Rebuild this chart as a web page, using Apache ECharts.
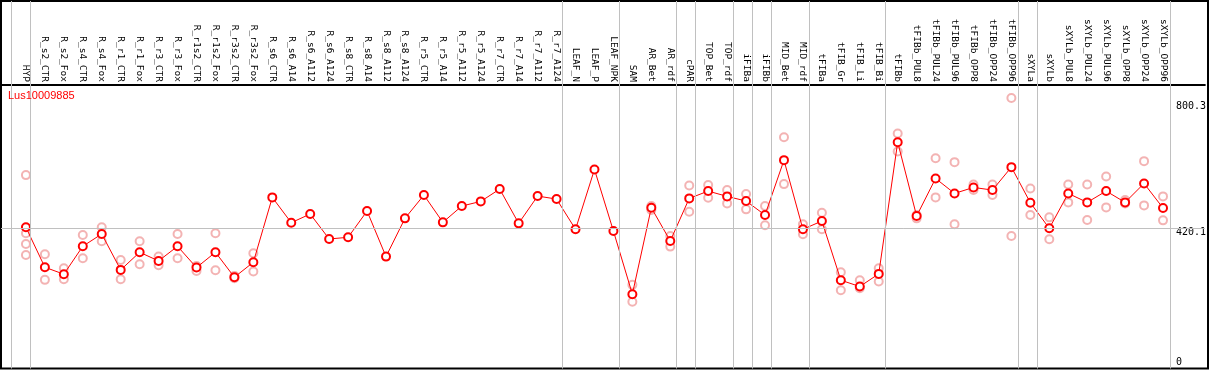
<!DOCTYPE html>
<html>
<head>
<meta charset="utf-8">
<script src="https://cdn.jsdelivr.net/npm/echarts@6.0.0/dist/echarts.min.js"></script>
<style>
html,body{margin:0;padding:0;background:#fff;}
#chart{width:1209px;height:370px;}
</style>
</head>
<body>
<div id="chart"></div>
<script>
const geneName = 'Lus10009885';
const categories = ['HYP','R_s2_CTR','R_s2_Fox','R_s4_CTR','R_s4_Fox','R_r1_CTR','R_r1_Fox','R_r3_CTR','R_r3_Fox','R_r1s2_CTR','R_r1s2_Fox','R_r3s2_CTR','R_r3s2_Fox','R_s6_CTR','R_s6_A14','R_s6_A112','R_s6_A124','R_s8_CTR','R_s8_A14','R_s8_A112','R_s8_A124','R_r5_CTR','R_r5_A14','R_r5_A112','R_r5_A124','R_r7_CTR','R_r7_A14','R_r7_A112','R_r7_A124','LEAF_N','LEAF_P','LEAF_NPK','SAM','AR_Bet','AR_rdf','cPAR','TOP_Bet','TOP_rdf','iFIBa','iFIBb','MID_Bet','MID_rdf','tFIBa','tFIB_Gr','tFIB_Li','tFIB_Bi','tFIBb','tFIBb_PUL8','tFIBb_PUL24','tFIBb_PUL96','tFIBb_OPP8','tFIBb_OPP24','tFIBb_OPP96','sXYLa','sXYLb','sXYLb_PUL8','sXYLb_PUL24','sXYLb_PUL96','sXYLb_OPP8','sXYLb_OPP24','sXYLb_OPP96'];
const meanValues = [423,303,282,366,403,295,348,322,366,302,348,273,318,513,437,463,388,393,472,335,450,520,438,487,501,538,435,517,508,417,597,412,222,482,382,510,532,516,502,460,625,417,442,264,245,283,679,457,570,525,543,535,604,497,420,525,498,532,498,555,481];
const replicates = [[580,405,373,340],[342,265],[300,267],[400,330],[423,381],[325,267],[381,312],[335,309],[403,330],[307,292],[405,294],[277,270],[345,290],
[],[],[],[],[],[],[],[],[],[],[],[],[],[],[],[],[],[],[],
[250,199],[487,475],[397,365],[549,470],[550,512],[535,495],[523,477],[487,429],[694,553],[432,402],[467,417],[288,234],[264,240],[300,260],
[705,651],[450,460],[631,513],[619,432],[552,535],[552,520],[812,397],[540,460],[453,387],[552,498],[552,445],[576,483],[505,495],[622,489],[516,444]];
const yTickValues = [0, 420.1, 800.3];
const refLineValue = 420.1;
// group separators follow these category indices
const separatorAfter = [-1,0,28,31,34,35,37,38,39,41,45,52,53,60];

const mono = 'DejaVu Sans Mono';
const X_MIN = (1 - 26) / 19, X_MAX = (1208 - 26) / 19, SEP_OFF = 4.3 / 19;
const Y_MAX = 851;
const meanData = meanValues.map((v, i) => [i, v]);
const repData = [];
replicates.forEach((arr, i) => arr.forEach(v => repData.push([i, v])));

const yLabelBase = {inside: true, align: 'left', margin: 29, fontFamily: mono, fontSize: 10, color: '#000'};

const chart = echarts.init(document.getElementById('chart'), null, {renderer: 'canvas'});
chart.setOption({
  animation: false,
  backgroundColor: '#fff',
  title: {text: geneName, left: 8, top: 90, padding: 0,
    textStyle: {color: '#ff0000', fontSize: 11, fontWeight: 'normal', fontFamily: 'Liberation Sans'}},
  grid: [
    {left: 1, right: 1, top: 1, bottom: 1.5, show: true, borderColor: '#000', borderWidth: 2, backgroundColor: 'transparent'},
    {left: 1, right: 1, top: 85, bottom: 2}
  ],
  xAxis: [
    {type: 'value', gridIndex: 0, min: X_MIN, max: X_MAX, show: false},
    {type: 'value', gridIndex: 1, position: 'top', min: X_MIN, max: X_MAX,
      axisLine: {show: true, onZero: false, lineStyle: {color: '#000', width: 2}},
      axisTick: {show: false}, splitLine: {show: false},
      axisLabel: {customValues: categories.map((c, i) => i), rotate: 90, margin: 3,
        formatter: v => categories[Math.round(v)], fontFamily: mono, fontSize: 9.5, color: '#000', hideOverlap: false}}
  ],
  yAxis: [
    {type: 'value', gridIndex: 0, min: 0, max: 1, show: false},
    {type: 'value', gridIndex: 1, position: 'right', min: 0, max: Y_MAX,
      axisLine: {show: false, onZero: false}, axisTick: {show: false}, splitLine: {show: false},
      axisLabel: Object.assign({}, yLabelBase, {customValues: yTickValues.filter(v => v > 0),
        verticalAlign: 'top', lineHeight: 9})},
    {type: 'value', gridIndex: 1, position: 'right', min: 0, max: Y_MAX,
      axisLine: {show: false, onZero: false}, axisTick: {show: false}, splitLine: {show: false},
      axisLabel: Object.assign({}, yLabelBase, {customValues: yTickValues.filter(v => v === 0),
        verticalAlign: 'bottom', lineHeight: 12})}
  ],
  series: [
    {type: 'line', xAxisIndex: 0, yAxisIndex: 0, data: [], silent: true,
      markLine: {silent: true, symbol: 'none', label: {show: false},
        lineStyle: {color: '#c0c0c0', width: 1, type: 'solid'},
        data: separatorAfter.map(i => ({xAxis: i + SEP_OFF}))}},
    {type: 'scatter', xAxisIndex: 1, yAxisIndex: 1, data: repData, symbol: 'emptyCircle', symbolSize: 8,
      itemStyle: {color: '#f0a0a0', borderColor: '#f09898', borderWidth: 1.5}, z: 2},
    {type: 'line', xAxisIndex: 1, yAxisIndex: 1, data: meanData, symbol: 'emptyCircle', symbolSize: 8,
      lineStyle: {color: '#ff0000', width: 1}, itemStyle: {color: '#ff0000', borderColor: '#ff0000', borderWidth: 1.5}, z: 3,
      markLine: {silent: true, symbol: 'none', label: {show: false},
        lineStyle: {color: '#c0c0c0', width: 1, type: 'solid'}, data: [{yAxis: refLineValue}]}}
  ]
});
</script>
</body>
</html>
